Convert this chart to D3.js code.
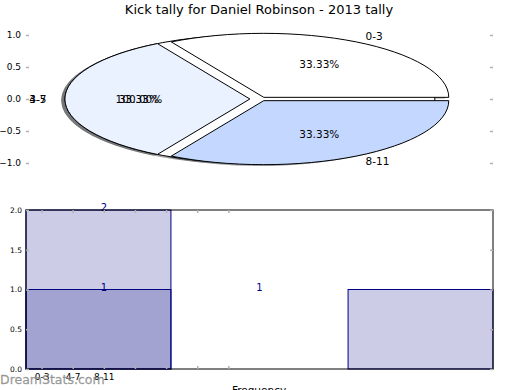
<!DOCTYPE html>
<html><head><meta charset="utf-8">
<script src="https://cdn.jsdelivr.net/npm/d3@7/dist/d3.min.js"></script>
<style>body{margin:0;background:#fff;} svg{display:block;font-family:"DejaVu Sans",sans-serif;}</style>
</head><body>
<script>
// ---- data ----
const title = "Kick tally for Daniel Robinson - 2013 tally";
const pieCategories = ["0-3", "4-7", "8-11"];
const pieValues = [1, 1, 1];
const pieColors = ["#ffffff", "#eaf1ff", "#c4d8ff"];
const pieExplode = [0.03, 0.06, 0.03];
const underCategories = ["3-5"];
const underValues = [1];
const underExplode = [0.06];
const pieYTicks = [-1, -0.5, 0, 0.5, 1];

const barCategories = ["0-3", "4-7", "8-11"];
const barSeriesA = [2, 0, 1];
const barSeriesB = [1, 0, 0];
const barLabelPos = [2.5, 2.5, 7.5];
const barLabelVal = [2, 1, 1];
const barYTicks = [0, 0.5, 1, 1.5, 2];
const barXTickPos = [0.5, 1.5, 2.5, 3.5, 4.5, 5.5, 6.5];

const W = 520, H = 390;
const svg = d3.select("body").append("svg").attr("width", W).attr("height", H);

// title
svg.append("text").attr("x", 259).attr("y", 14).attr("text-anchor", "middle")
  .attr("font-size", 13).attr("fill", "#000").text(title);

// ---- pie axes ----
const xPie = d3.scaleLinear().domain([-1, 1]).range([261 - 185, 261 + 185]);
const yPie = d3.scaleLinear().domain([-1, 1]).range([163, 35]);
const rx = xPie(1) - xPie(0), ry = yPie(0) - yPie(1);

const tickGray = "#b0b0b0";
const gl = svg.append("g").attr("transform", "translate(26,0)")
  .call(d3.axisLeft(yPie).tickValues(pieYTicks).tickSizeInner(-3).tickSizeOuter(0).tickPadding(5)
    .tickFormat(d => d3.format(".1f")(d).replace("-", "\u2212")));
gl.select(".domain").remove();
gl.selectAll(".tick line").attr("stroke", tickGray).attr("stroke-width", 1.5);
gl.selectAll(".tick text").attr("font-size", 9).attr("font-family", "DejaVu Sans").attr("fill", "#000");
const gr = svg.append("g").attr("transform", "translate(493,0)")
  .call(d3.axisRight(yPie).tickValues(pieYTicks).tickSizeInner(-3).tickSizeOuter(0).tickFormat(""));
gr.select(".domain").remove();
gr.selectAll(".tick line").attr("stroke", tickGray).attr("stroke-width", 1.5);

function pieLayout(vals) {
  return d3.pie().sort(null).startAngle(Math.PI / 2).endAngle(Math.PI / 2 - 2 * Math.PI)(vals);
}
const arcUnit = d3.arc().innerRadius(0).outerRadius(1);
function midTheta(a) { return Math.PI / 2 - (a.startAngle + a.endAngle) / 2; }
function shade(c) { const k = d3.rgb(c); return d3.rgb(k.r * 0.3, k.g * 0.3, k.b * 0.3); }

const mainArcs = pieLayout(pieValues);
const underArcs = pieLayout(underValues);

function wedgeOffset(a, ex) {
  const t = midTheta(a);
  return [ex * Math.cos(t), ex * Math.sin(t)];
}
const shadowOff = [-0.02, -0.02];
const pieG = svg.append("g");

function drawWedges(arcs, explode, colors, shadow) {
  arcs.forEach((a, i) => {
    const [ox, oy] = wedgeOffset(a, explode[i]);
    const sx = shadow ? shadowOff[0] : 0, sy = shadow ? shadowOff[1] : 0;
    const g = pieG.append("g")
      .attr("transform", `translate(${xPie(ox + sx)},${yPie(oy + sy)}) scale(${rx},${ry})`);
    const p = g.append("path").attr("d", arcUnit(a)).attr("vector-effect", "non-scaling-stroke");
    if (shadow) {
      p.attr("fill", shade(colors[i])).attr("fill-opacity", 0.5).attr("stroke", "none");
    } else {
      p.attr("fill", colors[i]).attr("stroke", "#000").attr("stroke-width", 1);
    }
  });
}
drawWedges(underArcs, underExplode, ["#ffffff"], true);
drawWedges(mainArcs, pieExplode, pieColors, true);
drawWedges(underArcs, underExplode, ["#ffffff"], false);
drawWedges(mainArcs, pieExplode, pieColors, false);

function drawLabels(arcs, explode, cats, vals) {
  const total = d3.sum(vals);
  arcs.forEach((a, i) => {
    const t = midTheta(a);
    const [ox, oy] = wedgeOffset(a, explode[i]);
    const lx = ox + 1.1 * Math.cos(t), ly = oy + 1.1 * Math.sin(t);
    svg.append("text").attr("x", xPie(lx)).attr("y", yPie(ly)).attr("dy", "0.36em")
      .attr("text-anchor", lx > 0 ? "start" : "end").attr("font-size", 10.5).attr("fill", "#000")
      .text(cats[i]);
    const px = ox + 0.6 * Math.cos(t), py = oy + 0.6 * Math.sin(t);
    svg.append("text").attr("x", xPie(px)).attr("y", yPie(py)).attr("dy", "0.36em")
      .attr("text-anchor", "middle").attr("font-size", 10.5).attr("fill", "#000")
      .text(d3.format(".2f")(vals[i] / total * 100) + "%");
  });
}
drawLabels(underArcs, underExplode, underCategories, underValues);
drawLabels(mainArcs, pieExplode, pieCategories, pieValues);

// ---- bar axes ----
const bx0 = 26, bx1 = 493, by0 = 210, by1 = 369;
const xBar = d3.scaleLinear().domain([-0.45, 2.45]).range([bx0, bx1]);
const xTick = d3.scaleLinear().domain([0, 15]).range([bx0, bx1]);
const yBar = d3.scaleLinear().domain([0, 2]).range([by1, by0]);
const barW = 0.9;
const navy = "#000080";

const bars = svg.append("g");
[barSeriesA, barSeriesB].forEach(series => {
  bars.selectAll(null).data(series.map((v, i) => ({ v, i })).filter(d => d.v > 0)).enter()
    .append("rect")
    .attr("x", d => xBar(d.i - barW / 2)).attr("width", d => xBar(d.i + barW / 2) - xBar(d.i - barW / 2))
    .attr("y", d => yBar(d.v)).attr("height", d => yBar(0) - yBar(d.v))
    .attr("fill", navy).attr("fill-opacity", 0.2).attr("stroke", navy).attr("stroke-width", 1);
});
barLabelPos.forEach((p, k) => {
  svg.append("text").attr("x", xTick(p)).attr("y", yBar(barLabelVal[k]) + 1)
    .attr("text-anchor", "middle").attr("font-size", 10).attr("fill", navy).text(barLabelVal[k]);
});

svg.append("rect").attr("x", bx0).attr("y", by0).attr("width", bx1 - bx0).attr("height", by1 - by0)
  .attr("fill", "none").attr("stroke", "#000").attr("stroke-width", 1);

const bl = svg.append("g").attr("transform", `translate(${bx0},0)`)
  .call(d3.axisLeft(yBar).tickValues(barYTicks).tickSizeInner(-3).tickSizeOuter(0).tickPadding(4)
    .tickFormat(d3.format(".1f")));
bl.select(".domain").remove();
bl.selectAll(".tick line").attr("stroke", tickGray).attr("stroke-width", 1.5);
bl.selectAll(".tick text").attr("font-size", 7.5).attr("font-family", "DejaVu Sans").attr("fill", "#000");
const br = svg.append("g").attr("transform", `translate(${bx1},0)`)
  .call(d3.axisRight(yBar).tickValues(barYTicks).tickSizeInner(-3).tickSizeOuter(0).tickFormat(""));
br.select(".domain").remove();
br.selectAll(".tick line").attr("stroke", tickGray).attr("stroke-width", 1.5);

const bb = svg.append("g").attr("transform", `translate(0,${by1})`)
  .call(d3.axisBottom(xTick).tickValues(barXTickPos).tickSizeInner(-3).tickSizeOuter(0).tickPadding(5)
    .tickFormat((d, i) => barCategories[i] || ""));
bb.select(".domain").remove();
bb.selectAll(".tick line").attr("stroke", tickGray).attr("stroke-width", 1.5);
bb.selectAll(".tick text").attr("font-size", 9).attr("font-family", "DejaVu Sans").attr("fill", "#000");
const bt = svg.append("g").attr("transform", `translate(0,${by0})`)
  .call(d3.axisTop(xTick).tickValues(barXTickPos).tickSizeInner(-3).tickSizeOuter(0).tickFormat(""));
bt.select(".domain").remove();
bt.selectAll(".tick line").attr("stroke", tickGray).attr("stroke-width", 1.5);

svg.append("text").attr("x", 259).attr("y", 394).attr("text-anchor", "middle")
  .attr("font-size", 10.5).attr("fill", "#000").text("Frequency");

// watermark
svg.append("text").attr("x", 0).attr("y", 384).attr("font-size", 12.5)
  .attr("fill", "#8c8c8c").attr("fill-opacity", 0.85).attr("stroke", "#8c8c8c").attr("stroke-width", 0.3)
  .attr("stroke-opacity", 0.85).text("DreamStats.com");
</script>
</body></html>
